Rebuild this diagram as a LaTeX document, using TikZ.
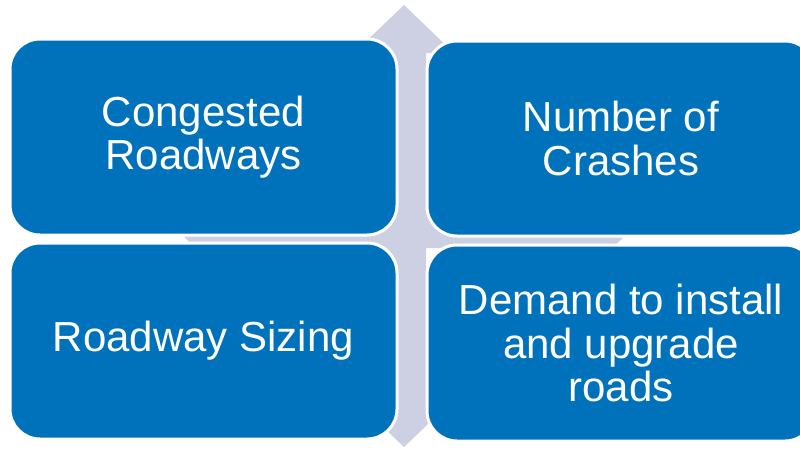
\documentclass[tikz,border=0pt]{standalone}
\usepackage{fontspec}
\setmainfont{Liberation Sans}
\definecolor{boxblue}{RGB}{0,114,188}
\definecolor{arrowgray}{RGB}{205,208,226}
\begin{document}
\begin{tikzpicture}[x=1pt,y=-1pt,
  quadbox/.style={rectangle, rounded corners=30pt, fill=boxblue, draw=white,
    line width=3pt, text=white, align=center, inner sep=0pt,
    font=\fontsize{42}{43.5}\selectfont}]
\clip (0,0) rectangle (800,448);
\fill[white] (0,0) rectangle (800,448);
% quad arrow behind
\fill[arrowgray] (404,5) -- (454,53) -- (426,53) -- (426,204) -- (586,204) -- (586,176)
  -- (634,226) -- (586,276) -- (586,248) -- (426,248) -- (426,399) -- (454,399)
  -- (404,447) -- (354,399) -- (382,399) -- (382,248) -- (222,248) -- (222,276)
  -- (174,226) -- (222,176) -- (222,204) -- (382,204) -- (382,53) -- (354,53) -- cycle;
% boxes
\node[quadbox, minimum width=387pt, minimum height=196pt] (tl) at (203.5,137) {Congested\\Roadways};
\node[quadbox, minimum width=388pt, minimum height=195pt] (tr) at (621,138.5) {Number of\\Crashes};
\node[quadbox, minimum width=387pt, minimum height=196pt] (bl) at (203.5,341) {Roadway Sizing};
\node[quadbox, minimum width=388pt, minimum height=196pt] (br) at (621,343) {Demand to install\\and upgrade\\roads};
\end{tikzpicture}
\end{document}
